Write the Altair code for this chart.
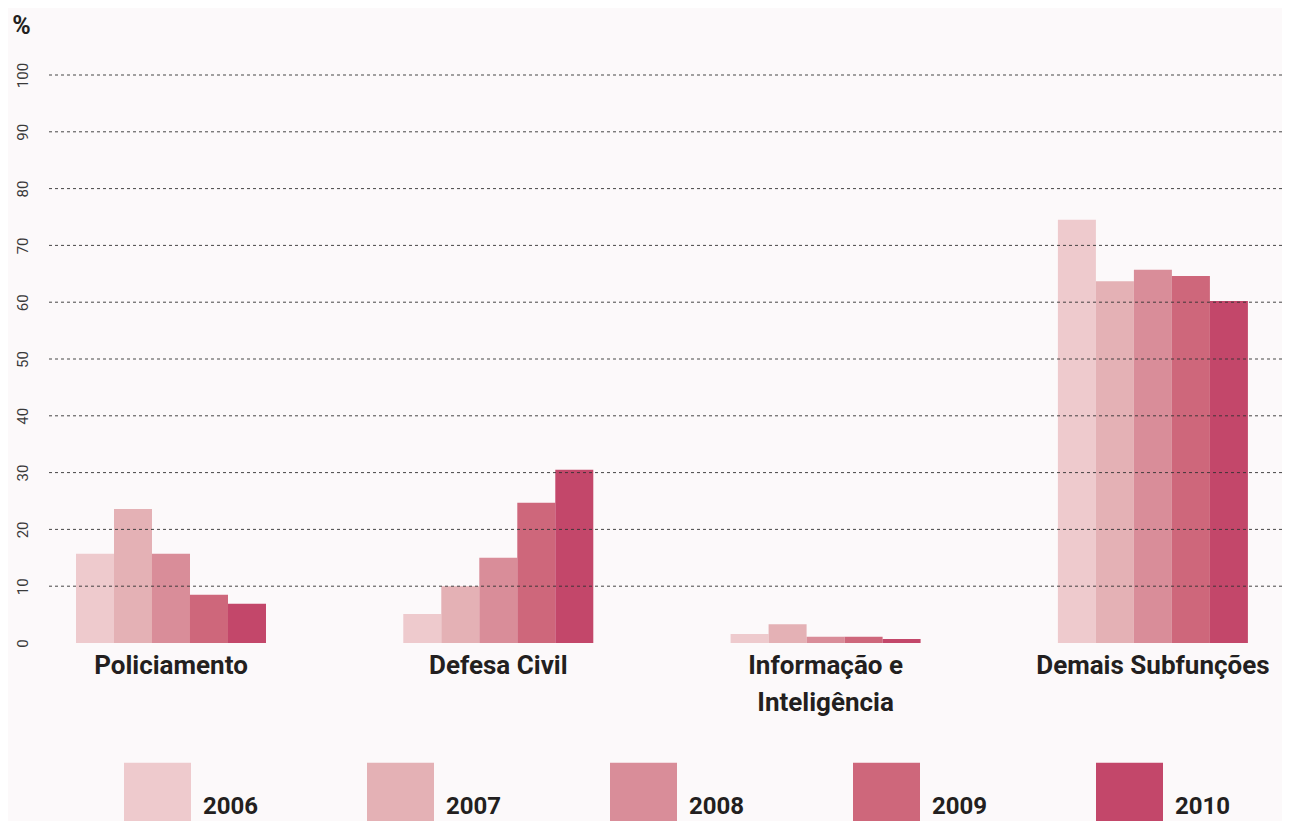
import altair as alt
import pandas as pd

categories = ["Policiamento", "Defesa Civil", "Informação e Inteligência", "Demais Subfunções"]
years = ["2006", "2007", "2008", "2009", "2010"]
v2006 = [15.7, 5.1, 1.6, 74.5]
v2007 = [23.6, 10.0, 3.3, 63.7]
v2008 = [15.7, 15.0, 1.1, 65.7]
v2009 = [8.5, 24.7, 1.1, 64.6]
v2010 = [6.9, 30.5, 0.7, 60.2]
colors = ["#eecacd", "#e4b1b5", "#d98d99", "#ce677b", "#c3476a"]
y_ticks = [0, 10, 20, 30, 40, 50, 60, 70, 80, 90, 100]
grid_values = [10, 20, 30, 40, 50, 60, 70, 80, 90, 100]

series = [v2006, v2007, v2008, v2009, v2010]
rows = []
for yr, vals in zip(years, series):
    for cat, v in zip(categories, vals):
        rows.append({"categoria": cat, "ano": yr, "pct": v})
df = pd.DataFrame(rows)
grid_df = pd.DataFrame({"pct": grid_values})

FONT = "Roboto, Liberation Sans, sans-serif"
DARK = "#231f20"

y_axis = alt.Axis(
    values=y_ticks,
    grid=False,
    domain=False,
    ticks=False,
    labelAngle=270,
    labelAlign="center",
    labelBaseline="bottom",
    labelPadding=16,
    labelFont=FONT,
    labelFontSize=15,
    labelColor="#3a3a3a",
    title="%",
    titleAngle=0,
    titleX=-25,
    titleY=-42,
    titleAlign="center",
    titleBaseline="alphabetic",
    titleFont=FONT,
    titleFontSize=25,
    titleFontWeight="bold",
    titleColor=DARK,
)
y_scale = alt.Scale(domain=[0, 100], nice=False, zero=True)

bars = alt.Chart(df).mark_bar().encode(
    x=alt.X(
        "categoria:N",
        sort=categories,
        scale=alt.Scale(paddingInner=0.4195, paddingOuter=0.0979, align=0.468),
        axis=alt.Axis(
            title=None,
            domain=False,
            ticks=False,
            labelAngle=0,
            labelFont=FONT,
            labelFontSize=26,
            labelFontWeight="bold",
            labelColor=DARK,
            labelPadding=9,
            labelLineHeight=37,
            labelLimit=0,
            labelExpr="datum.label == 'Informação e Inteligência' ? ['Informação e', 'Inteligência'] : datum.label",
        ),
    ),
    xOffset=alt.XOffset("ano:N", sort=years, scale=alt.Scale(paddingInner=0, paddingOuter=0)),
    y=alt.Y("pct:Q", scale=y_scale, axis=y_axis),
    color=alt.Color(
        "ano:N",
        sort=years,
        scale=alt.Scale(domain=years, range=colors),
        legend=alt.Legend(
            orient="none",
            legendX=78,
            legendY=698,
            direction="horizontal",
            columns=5,
            title=None,
            symbolType="M-1,-1.314H1V0.447H-1Z",
            symbolSize=4489,
            symbolStrokeWidth=0,
            symbolOpacity=1,
            labelFont=FONT,
            labelFontSize=24,
            labelFontWeight="bold",
            labelColor=DARK,
            labelOffset=12,
            columnPadding=108,
            gridAlign="all",
            padding=0,
        ),
    ),
)

grid = alt.Chart(grid_df).mark_rule(
    color="#333333", strokeWidth=1, strokeDash=[3, 3], opacity=0.9
).encode(y=alt.Y("pct:Q", scale=y_scale, axis=y_axis))

chart = alt.layer(bars, grid).properties(
    width=1236,
    height=568,
    background="#fcf9fa",
    padding={"left": 38, "top": 67, "right": 0, "bottom": 178},
    autosize=alt.AutoSizeParams(type="none"),
).configure_view(stroke=None)

chart.save("out.html", embed_options={"renderer": "svg", "actions": False})
